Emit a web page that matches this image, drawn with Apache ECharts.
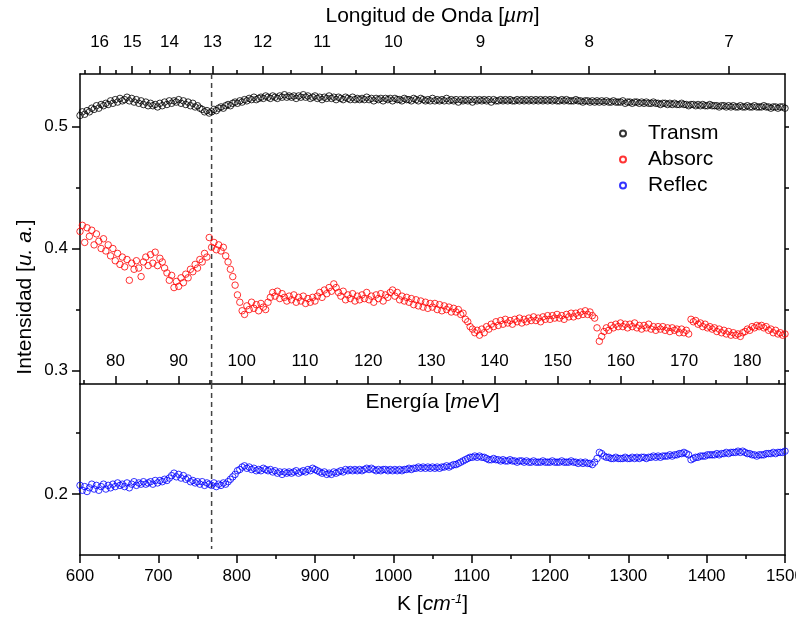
<!DOCTYPE html>
<html>
<head>
<meta charset="utf-8">
<script src="https://cdn.jsdelivr.net/npm/echarts@6/dist/echarts.min.js"></script>
<style>
html,body{margin:0;padding:0;background:#fff;}
#chart{width:796px;height:622px;}
</style>
</head>
<body>
<div id="chart"></div>
<script>
// Wavenumber sampling grid (cm^-1): 600, 603, ..., 1500
const K_START = 600;
const K_STEP = 3;

// Transmittance (black) - each row covers 30 cm^-1
const transm = [
  0.509,0.512,0.510,0.513,0.512,0.515,0.514,0.517,0.515,0.518,
  0.517,0.519,0.518,0.521,0.519,0.522,0.520,0.523,0.521,0.522,
  0.524,0.521,0.523,0.520,0.522,0.519,0.521,0.518,0.520,0.517,
  0.519,0.517,0.518,0.516,0.519,0.517,0.520,0.518,0.521,0.519,
  0.521,0.520,0.522,0.519,0.521,0.518,0.520,0.517,0.519,0.516,
  0.517,0.515,0.514,0.512,0.513,0.511,0.512,0.514,0.513,0.515,
  0.516,0.515,0.517,0.518,0.517,0.519,0.520,0.519,0.521,0.520,
  0.522,0.521,0.523,0.522,0.524,0.522,0.523,0.524,0.523,0.525,
  0.524,0.523,0.525,0.524,0.523,0.525,0.524,0.526,0.524,0.525,
  0.524,0.525,0.523,0.525,0.524,0.526,0.524,0.525,0.523,0.524,
  0.525,0.523,0.524,0.522,0.524,0.523,0.525,0.523,0.524,0.522,
  0.524,0.523,0.522,0.524,0.523,0.522,0.524,0.522,0.523,0.522,
  0.523,0.522,0.524,0.522,0.523,0.521,0.523,0.522,0.523,0.521,
  0.523,0.522,0.523,0.521,0.523,0.522,0.522,0.521,0.523,0.522,
  0.522,0.521,0.523,0.522,0.521,0.523,0.522,0.521,0.522,0.521,
  0.523,0.521,0.522,0.521,0.522,0.521,0.523,0.521,0.522,0.521,
  0.522,0.520,0.522,0.521,0.522,0.521,0.522,0.520,0.522,0.521,
  0.522,0.521,0.522,0.521,0.522,0.520,0.522,0.521,0.521,0.522,
  0.521,0.522,0.521,0.522,0.521,0.521,0.522,0.521,0.522,0.521,
  0.522,0.521,0.522,0.521,0.522,0.521,0.522,0.521,0.522,0.521,
  0.522,0.521,0.522,0.521,0.521,0.522,0.521,0.522,0.521,0.521,
  0.521,0.522,0.521,0.521,0.520,0.521,0.521,0.520,0.521,0.520,
  0.521,0.520,0.521,0.520,0.521,0.520,0.520,0.521,0.520,0.520,
  0.520,0.521,0.519,0.520,0.520,0.519,0.520,0.520,0.519,0.520,
  0.519,0.520,0.519,0.519,0.520,0.519,0.519,0.518,0.519,0.519,
  0.518,0.519,0.518,0.519,0.518,0.518,0.519,0.518,0.518,0.517,
  0.518,0.518,0.517,0.518,0.517,0.518,0.517,0.517,0.518,0.517,
  0.517,0.517,0.516,0.517,0.517,0.516,0.517,0.516,0.517,0.516,
  0.516,0.517,0.516,0.516,0.517,0.516,0.516,0.517,0.516,0.516,
  0.516,0.517,0.516,0.516,0.515,0.516,0.516,0.515,0.516,0.516,
  0.515
];

// Absorption (red)
const absorc = [
  0.414,0.419,0.405,0.417,0.410,0.415,0.403,0.412,0.406,0.400,
  0.408,0.398,0.403,0.394,0.400,0.390,0.396,0.387,0.393,0.385,
  0.391,0.374,0.388,0.383,0.390,0.384,0.377,0.389,0.393,0.386,
  0.395,0.388,0.397,0.386,0.392,0.389,0.384,0.380,0.374,0.378,
  0.368,0.373,0.369,0.376,0.372,0.379,0.376,0.383,0.381,0.387,
  0.384,0.391,0.389,0.396,0.393,0.409,0.401,0.405,0.399,0.403,
  0.398,0.401,0.394,0.389,0.383,0.377,0.370,0.362,0.356,0.349,
  0.346,0.353,0.350,0.356,0.351,0.354,0.349,0.355,0.352,0.350,
  0.356,0.360,0.364,0.361,0.365,0.359,0.363,0.360,0.357,0.361,
  0.358,0.362,0.356,0.360,0.357,0.361,0.355,0.359,0.356,0.360,
  0.357,0.361,0.364,0.360,0.366,0.363,0.368,0.365,0.371,0.368,
  0.364,0.361,0.365,0.358,0.362,0.359,0.363,0.357,0.361,0.358,
  0.362,0.359,0.364,0.358,0.361,0.356,0.362,0.359,0.363,0.357,
  0.362,0.360,0.364,0.366,0.361,0.364,0.358,0.361,0.357,0.360,
  0.356,0.359,0.354,0.358,0.353,0.357,0.352,0.356,0.351,0.355,
  0.352,0.355,0.350,0.354,0.349,0.353,0.350,0.352,0.348,0.351,
  0.348,0.350,0.346,0.347,0.342,0.340,0.336,0.334,0.331,0.333,
  0.329,0.334,0.331,0.336,0.334,0.338,0.336,0.340,0.337,0.341,
  0.338,0.342,0.339,0.341,0.338,0.342,0.340,0.343,0.339,0.342,
  0.340,0.343,0.341,0.344,0.341,0.343,0.340,0.344,0.342,0.345,
  0.342,0.345,0.343,0.346,0.343,0.345,0.342,0.346,0.344,0.347,
  0.344,0.347,0.345,0.348,0.346,0.349,0.346,0.348,0.345,0.343,
  0.335,0.324,0.328,0.332,0.335,0.333,0.337,0.335,0.338,0.336,
  0.339,0.336,0.338,0.335,0.338,0.336,0.339,0.335,0.337,0.334,
  0.337,0.335,0.338,0.334,0.336,0.333,0.336,0.334,0.336,0.333,
  0.335,0.332,0.335,0.333,0.334,0.331,0.334,0.331,0.333,0.330,
  0.342,0.340,0.341,0.338,0.339,0.336,0.338,0.335,0.336,0.334,
  0.335,0.332,0.334,0.331,0.333,0.330,0.332,0.329,0.331,0.329,
  0.330,0.328,0.331,0.332,0.334,0.333,0.336,0.335,0.337,0.336,
  0.337,0.335,0.336,0.333,0.334,0.331,0.333,0.330,0.331,0.329,
  0.330
];

// Reflectance (blue)
const reflec = [
  0.207,0.203,0.206,0.202,0.205,0.208,0.204,0.207,0.203,0.206,
  0.208,0.204,0.207,0.205,0.208,0.206,0.209,0.207,0.208,0.206,
  0.209,0.205,0.208,0.210,0.207,0.209,0.208,0.210,0.208,0.209,
  0.210,0.208,0.211,0.209,0.211,0.210,0.212,0.211,0.213,0.215,
  0.217,0.214,0.216,0.213,0.215,0.212,0.213,0.210,0.211,0.209,
  0.210,0.208,0.210,0.207,0.209,0.208,0.207,0.209,0.206,0.208,
  0.207,0.209,0.208,0.210,0.212,0.214,0.216,0.219,0.220,0.222,
  0.223,0.221,0.222,0.220,0.221,0.219,0.220,0.219,0.221,0.220,
  0.219,0.220,0.218,0.219,0.217,0.218,0.216,0.218,0.217,0.218,
  0.217,0.218,0.219,0.217,0.218,0.219,0.218,0.220,0.219,0.221,
  0.220,0.219,0.218,0.217,0.218,0.216,0.217,0.216,0.218,0.217,
  0.218,0.219,0.218,0.220,0.219,0.220,0.219,0.220,0.219,0.220,
  0.219,0.220,0.221,0.220,0.221,0.220,0.219,0.220,0.219,0.220,
  0.220,0.219,0.220,0.219,0.220,0.219,0.220,0.219,0.220,0.220,
  0.221,0.220,0.221,0.221,0.222,0.221,0.222,0.221,0.222,0.221,
  0.222,0.221,0.222,0.221,0.222,0.222,0.223,0.222,0.223,0.224,
  0.224,0.225,0.226,0.227,0.228,0.229,0.230,0.230,0.231,0.230,
  0.231,0.230,0.230,0.229,0.228,0.228,0.229,0.228,0.228,0.227,
  0.228,0.227,0.227,0.228,0.227,0.227,0.226,0.227,0.227,0.226,
  0.227,0.226,0.226,0.227,0.226,0.226,0.226,0.227,0.226,0.226,
  0.226,0.227,0.226,0.226,0.226,0.227,0.226,0.226,0.226,0.227,
  0.226,0.226,0.225,0.226,0.225,0.226,0.225,0.225,0.224,0.226,
  0.229,0.234,0.233,0.231,0.230,0.230,0.229,0.229,0.230,0.229,
  0.229,0.229,0.230,0.229,0.229,0.230,0.229,0.230,0.229,0.230,
  0.230,0.229,0.230,0.230,0.231,0.230,0.231,0.230,0.231,0.231,
  0.231,0.232,0.231,0.232,0.232,0.233,0.233,0.234,0.233,0.232,
  0.228,0.229,0.230,0.230,0.231,0.231,0.231,0.232,0.232,0.232,
  0.232,0.233,0.232,0.233,0.233,0.234,0.233,0.234,0.234,0.234,
  0.235,0.234,0.235,0.234,0.233,0.233,0.232,0.232,0.231,0.232,
  0.232,0.232,0.233,0.233,0.233,0.234,0.233,0.234,0.234,0.234,
  0.235
];

// Tick labels
const kTicks = [600,700,800,900,1000,1100,1200,1300,1400,1500];
const wavelengthMajor = [16,15,14,13,12,11,10,9,8,7];
const wavelengthMinor = [16.5,15.5,14.5,13.5,12.5,11.5,10.5,9.5,8.5,7.5];
const energyMajor = [80,90,100,110,120,130,140,150,160,170,180];
const energyMinor = [75,85,95,105,115,125,135,145,155,165,175,185];
const yTopMajor = [0.3,0.4,0.5];
const yTopMinor = [0.35,0.45];
const yBotMajor = [0.2];
const yBotMinor = [0.25];
const markerK = 768; // dashed reference line (~13 µm)

const CM_PER_MEV = 8.06554;
const kGrid = transm.map((_, i) => K_START + K_STEP * i);
const pts = arr => arr.map((v, i) => [kGrid[i], v]);

const FONT = '"Liberation Sans", Arial, Helvetica, sans-serif';
const AX = {lineStyle: {color: '#000', width: 1.5}};
const TL = {color: '#000', fontSize: 17, fontFamily: FONT};
const NT = {color: '#000', fontSize: 21, fontFamily: FONT,
  rich: {i: {fontStyle: 'italic', fontSize: 21, fontFamily: FONT, color: '#000'},
         sup: {fontStyle: 'italic', fontSize: 13, fontFamily: FONT, color: '#000', verticalAlign: 'top', padding: [0, 0, 10, 0]}}};

const chart = echarts.init(document.getElementById('chart'), null, {renderer: 'canvas'});

const kMin = kTicks[0], kMax = kTicks[kTicks.length - 1];

const option = {
  animation: false,
  backgroundColor: '#fff',
  grid: [
    {left: 80, right: 11, top: 74, height: 310, containLabel: false, outerBoundsMode: 'none'},
    {left: 80, right: 11, top: 384, height: 171, containLabel: false, outerBoundsMode: 'none'}
  ],
  xAxis: [
    { // 0: energy axis (bottom of upper panel), main data axis
      gridIndex: 0, type: 'value', position: 'bottom', min: kMin, max: kMax,
      axisLine: Object.assign({show: true}, AX),
      axisTick: {show: true, inside: true, length: 8, lineStyle: {color: '#000', width: 1.5},
        customValues: energyMajor.map(e => e * CM_PER_MEV)},
      axisLabel: {show: true, inside: true, margin: 14, ...TL,
        customValues: energyMajor.map(e => e * CM_PER_MEV),
        formatter: v => String(Math.round(v / CM_PER_MEV))},
      splitLine: {show: false},
      name: 'Energía [{i|meV}]', nameLocation: 'middle', nameGap: 8, nameTextStyle: NT
    },
    { // 1: energy minor ticks
      gridIndex: 0, type: 'value', position: 'bottom', min: kMin, max: kMax,
      axisLine: {show: false},
      axisTick: {show: true, inside: true, length: 4, lineStyle: {color: '#000', width: 1.5},
        customValues: energyMinor.map(e => e * CM_PER_MEV)},
      axisLabel: {show: false}, splitLine: {show: false}
    },
    { // 2: wavelength axis (top)
      gridIndex: 0, type: 'value', position: 'top', min: kMin, max: kMax,
      axisLine: Object.assign({show: true}, AX),
      axisTick: {show: true, length: 8, lineStyle: {color: '#000', width: 1.5},
        customValues: wavelengthMajor.map(l => 10000 / l)},
      axisLabel: {show: true, margin: 23, ...TL,
        customValues: wavelengthMajor.map(l => 10000 / l),
        formatter: v => String(Math.round(10000 / v))},
      splitLine: {show: false},
      name: 'Longitud de Onda [{i|µm}]', nameLocation: 'middle', nameGap: 47, nameTextStyle: NT
    },
    { // 3: wavelength minor ticks
      gridIndex: 0, type: 'value', position: 'top', min: kMin, max: kMax,
      axisLine: {show: false},
      axisTick: {show: true, length: 4, lineStyle: {color: '#000', width: 1.5},
        customValues: wavelengthMinor.map(l => 10000 / l)},
      axisLabel: {show: false}, splitLine: {show: false}
    },
    { // 4: wavenumber axis (bottom of lower panel)
      gridIndex: 1, type: 'value', position: 'bottom', min: kMin, max: kMax, interval: 100,
      axisLine: Object.assign({show: true}, AX),
      axisTick: {show: true, length: 8, lineStyle: {color: '#000', width: 1.5}},
      minorTick: {show: true, splitNumber: 2, length: 4, lineStyle: {color: '#000', width: 1.5}},
      axisLabel: {show: true, margin: 13, ...TL, showMaxLabel: true, showMinLabel: true,
        hideOverlap: false, formatter: v => String(v)},
      splitLine: {show: false},
      name: 'K [{i|cm}{sup|-1}]', nameLocation: 'middle', nameGap: 38, nameTextStyle: NT
    }
  ],
  yAxis: [
    { // 0: upper left major
      gridIndex: 0, type: 'value', position: 'left', min: 0.289, max: 0.543,
      axisLine: Object.assign({show: true}, AX),
      axisTick: {show: true, length: 8, lineStyle: {color: '#000', width: 1.5}, customValues: yTopMajor},
      axisLabel: {show: true, margin: 12, ...TL, customValues: yTopMajor, formatter: v => v.toFixed(1)},
      splitLine: {show: false}
    },
    { // 1: upper left minor
      gridIndex: 0, type: 'value', position: 'left', min: 0.289, max: 0.543,
      axisLine: {show: false},
      axisTick: {show: true, length: 4, lineStyle: {color: '#000', width: 1.5}, customValues: yTopMinor},
      axisLabel: {show: false}, splitLine: {show: false}
    },
    { // 2: upper right
      gridIndex: 0, type: 'value', position: 'right', min: 0.289, max: 0.543,
      axisLine: Object.assign({show: true}, AX),
      axisTick: {show: true, length: 4, lineStyle: {color: '#000', width: 1.5}, customValues: yTopMajor.concat(yTopMinor)},
      axisLabel: {show: false}, splitLine: {show: false}
    },
    { // 3: lower left major
      gridIndex: 1, type: 'value', position: 'left', min: 0.15, max: 0.29,
      axisLine: Object.assign({show: true}, AX),
      axisTick: {show: true, length: 8, lineStyle: {color: '#000', width: 1.5}, customValues: yBotMajor},
      axisLabel: {show: true, margin: 12, ...TL, customValues: yBotMajor, formatter: v => v.toFixed(1)},
      splitLine: {show: false}
    },
    { // 4: lower left minor
      gridIndex: 1, type: 'value', position: 'left', min: 0.15, max: 0.29,
      axisLine: {show: false},
      axisTick: {show: true, length: 4, lineStyle: {color: '#000', width: 1.5}, customValues: yBotMinor},
      axisLabel: {show: false}, splitLine: {show: false}
    },
    { // 5: lower right
      gridIndex: 1, type: 'value', position: 'right', min: 0.15, max: 0.29,
      axisLine: Object.assign({show: true}, AX),
      axisTick: {show: true, length: 4, lineStyle: {color: '#000', width: 1.5}, customValues: yBotMajor.concat(yBotMinor)},
      axisLabel: {show: false}, splitLine: {show: false}
    }
  ],
  legend: {
    orient: 'vertical', left: 614, top: 118, itemGap: 5,
    itemWidth: 6, itemHeight: 6, icon: 'circle',
    textStyle: {color: '#000', fontSize: 21, fontFamily: FONT, padding: [0, 0, 0, 17]},
    data: ['Transm', 'Absorc', 'Reflec']
  },
  graphic: [{
    type: 'text', x: 25, y: 297, rotation: Math.PI / 2,
    style: {
      text: '{n|Intensidad [}{i|u. a.}{n|]}',
      textAlign: 'center', textVerticalAlign: 'middle',
      rich: {
        n: {fontSize: 21, fontFamily: FONT, fill: '#000'},
        i: {fontSize: 21, fontFamily: FONT, fontStyle: 'italic', fill: '#000'}
      }
    }
  }],
  series: [
    {
      name: 'Transm', type: 'scatter', xAxisIndex: 0, yAxisIndex: 0,
      symbol: 'circle', symbolSize: 6.5,
      itemStyle: {color: 'rgba(255,255,255,0)', borderColor: '#000', borderWidth: 1},
      data: pts(transm), z: 3
    },
    {
      name: 'Absorc', type: 'scatter', xAxisIndex: 0, yAxisIndex: 0,
      symbol: 'circle', symbolSize: 6.5,
      itemStyle: {color: 'rgba(255,255,255,0)', borderColor: '#ff0000', borderWidth: 1},
      data: pts(absorc), z: 3
    },
    {
      name: 'Reflec', type: 'scatter', xAxisIndex: 4, yAxisIndex: 3,
      symbol: 'circle', symbolSize: 6.5,
      itemStyle: {color: 'rgba(255,255,255,0)', borderColor: '#0000ff', borderWidth: 1},
      data: pts(reflec), z: 3
    },
    {
      name: 'ref-top', type: 'line', xAxisIndex: 0, yAxisIndex: 0, silent: true,
      symbol: 'none', lineStyle: {color: '#444', width: 1.5, type: [5, 4]},
      data: [[markerK, 0.543], [markerK, 0.289]], z: 2
    },
    {
      name: 'ref-bottom', type: 'line', xAxisIndex: 4, yAxisIndex: 3, silent: true,
      symbol: 'none', lineStyle: {color: '#444', width: 1.5, type: [5, 4]},
      data: [[markerK, 0.29], [markerK, 0.155]], z: 2
    }
  ]
};

chart.setOption(option);
</script>
</body>
</html>
